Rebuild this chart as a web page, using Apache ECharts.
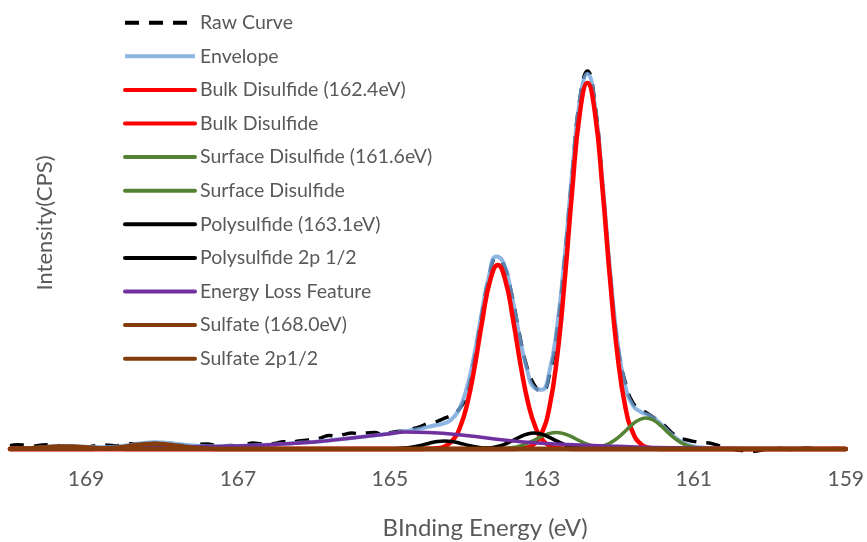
<!DOCTYPE html>
<html>
<head>
<meta charset="utf-8">
<script src="https://cdn.jsdelivr.net/npm/echarts@6/dist/echarts.min.js"></script>
<style>
  html, body { margin: 0; padding: 0; background: #ffffff; }
  #chart { width: 867px; height: 542px; }
</style>
</head>
<body>
<div id="chart"></div>
<script>
// S 2p spectrum: binding energy grid (eV) for the measured and fitted curves
const energy = [
  170, 169.9, 169.8, 169.7, 169.6, 169.5, 169.4, 169.3, 169.2, 169.1,
  169, 168.9, 168.8, 168.7, 168.6, 168.5, 168.4, 168.3, 168.2, 168.1,
  168, 167.9, 167.8, 167.7, 167.6, 167.5, 167.4, 167.3, 167.2, 167.1,
  167, 166.9, 166.8, 166.7, 166.6, 166.5, 166.4, 166.3, 166.2, 166.1,
  166, 165.9, 165.8, 165.7, 165.6, 165.5, 165.4, 165.3, 165.2, 165.1,
  165, 164.9, 164.8, 164.7, 164.6, 164.5, 164.4, 164.3, 164.2, 164.1,
  164, 163.9, 163.8, 163.7, 163.6, 163.5, 163.4, 163.3, 163.2, 163.1,
  163, 162.9, 162.8, 162.7, 162.6, 162.5, 162.4, 162.3, 162.2, 162.1,
  162, 161.9, 161.8, 161.7, 161.6, 161.5, 161.4, 161.3, 161.2, 161.1,
  161, 160.9, 160.8, 160.7, 160.6, 160.5, 160.4, 160.3, 160.2, 160.1,
  160, 159.9, 159.8, 159.7, 159.6, 159.5, 159.4, 159.3, 159.2, 159.1,
  159
];

// Measured intensity (CPS), background subtracted
const rawCounts = [
  34, 42, 36, 27, 38, 43, 36, 28, 20, 14,
  17, 30, 43, 38, 33, 46, 52, 44, 58, 62,
  47, 38, 41, 33, 27, 47, 49, 34, 29, 35,
  31, 45, 60, 52, 47, 57, 72, 66, 80, 88,
  94, 114, 134, 128, 146, 160, 153, 161, 166, 143,
  162, 174, 182, 203, 224, 256, 271, 302, 335, 386,
  520, 850, 1300, 1700, 1905, 1840, 1560, 1170, 830, 640,
  570, 740, 1180, 1900, 2750, 3500, 3780, 3450, 2620, 1750,
  1030, 660, 460, 400, 350, 300, 245, 170, 115, 92,
  76, 65, 60, 40, 15, 2, -12, -18, -22, -10,
  3, 8, 2, -5, 4, 9, 1, -4, 3, 6,
  2
];

// Fit envelope (CPS)
const envelopeCounts = [
  2, 4, 7, 11, 16, 22, 27, 29, 29, 26,
  22, 19, 18, 19, 24, 32, 43, 54, 63, 67,
  65, 59, 51, 42, 36, 31, 28, 28, 29, 29,
  30, 33, 36, 39, 42, 46, 51, 56, 62, 66,
  70, 78, 86, 94, 102, 110, 119, 127, 136, 144,
  154, 166, 179, 189, 203, 221, 237, 254, 289, 380,
  576, 900, 1325, 1715, 1925, 1855, 1550, 1150, 810, 612,
  592, 776, 1216, 1921, 2772, 3487, 3752, 3427, 2658, 1770,
  1054, 624, 434, 372, 340, 293, 225, 152, 91, 49,
  26, 14, 9, 7, 5, 4, 4, 3, 3, 2,
  2, 2, 2, 2, 2, 2, 1, 1, 1, 1,
  0
];

// Fitted components: [binding energy (eV), CPS]
const bulkDisulfide32 = [
  [170, 0], [163.4, 0], [163.3, 3], [163.2, 14], [163.1, 52], [163.0, 161],
  [162.9, 418], [162.8, 913], [162.7, 1676], [162.6, 2587], [162.5, 3356],
  [162.4, 3660], [162.3, 3356], [162.2, 2587], [162.1, 1676], [162.0, 913],
  [161.9, 418], [161.8, 161], [161.7, 52], [161.6, 14], [161.5, 3], [161.4, 0], [159, 0]
];
const bulkDisulfide12 = [
  [170, 0], [164.58, 0], [164.48, 2], [164.38, 7], [164.28, 26], [164.18, 81],
  [164.08, 210], [163.98, 459], [163.88, 842], [163.78, 1300], [163.68, 1687],
  [163.58, 1840], [163.48, 1687], [163.38, 1300], [163.28, 842], [163.18, 459],
  [163.08, 210], [162.98, 81], [162.88, 26], [162.78, 7], [162.68, 2], [162.58, 0], [159, 0]
];
const surfaceDisulfide32 = [
  [170, 0], [162.53, 0], [162.43, 3], [162.33, 8], [162.23, 22], [162.13, 49],
  [162.03, 95], [161.93, 159], [161.83, 231], [161.73, 288], [161.63, 310],
  [161.53, 288], [161.43, 231], [161.33, 159], [161.23, 95], [161.13, 49],
  [161.03, 22], [160.93, 8], [160.83, 3], [160.73, 0], [159, 0]
];
const surfaceDisulfide12 = [
  [170, 0], [163.71, 0], [163.61, 1], [163.51, 4], [163.41, 12], [163.31, 26],
  [163.21, 51], [163.11, 85], [163.01, 123], [162.91, 153], [162.81, 165],
  [162.71, 153], [162.61, 123], [162.51, 85], [162.41, 51], [162.31, 26],
  [162.21, 12], [162.11, 4], [162.01, 1], [161.91, 0], [159, 0]
];
const polysulfide32 = [
  [170, 0], [163.9, 0], [163.8, 3], [163.7, 9], [163.6, 22], [163.5, 44],
  [163.4, 78], [163.3, 116], [163.2, 148], [163.1, 160], [163.0, 148],
  [162.9, 116], [162.8, 78], [162.7, 44], [162.6, 22], [162.5, 9], [162.4, 3],
  [162.3, 0], [159, 0]
];
const polysulfide12 = [
  [170, 0], [165.08, 0], [164.98, 2], [164.88, 4], [164.78, 11], [164.68, 22],
  [164.58, 39], [164.48, 58], [164.38, 74], [164.28, 80], [164.18, 74],
  [164.08, 58], [163.98, 39], [163.88, 22], [163.78, 11], [163.68, 4],
  [163.58, 2], [163.48, 0], [159, 0]
];
const energyLossFeature = [
  [170, 0], [169.5, 2], [169, 5], [168.5, 10], [168, 16], [167.5, 24], [167, 30],
  [166.5, 46], [166, 70], [165.5, 110], [165, 153], [164.8, 170], [164.5, 165],
  [164, 135], [163.5, 90], [163, 58], [162.5, 40], [162, 27], [161.5, 16],
  [161, 9], [160.5, 4], [160, 2], [159.5, 1], [159, 0]
];
const sulfate32 = [
  [170, 0], [169.0, 0], [168.9, 1], [168.8, 3], [168.7, 7], [168.6, 13],
  [168.5, 21], [168.4, 32], [168.3, 42], [168.2, 49], [168.1, 52], [168.0, 49],
  [167.9, 42], [167.8, 32], [167.7, 21], [167.6, 13], [167.5, 7], [167.4, 3],
  [167.3, 1], [167.2, 0], [159, 0]
];
const sulfate12 = [
  [170, 2], [169.88, 4], [169.78, 6], [169.68, 11], [169.58, 16], [169.48, 21],
  [169.38, 25], [169.28, 26], [169.18, 25], [169.08, 21], [168.98, 16],
  [168.88, 11], [168.78, 6], [168.68, 4], [168.58, 2], [168.48, 1], [168.38, 0], [159, 0]
];

const xTickValues = [159, 161, 163, 165, 167, 169];

const seriesNames = [
  'Raw Curve', 'Envelope', 'Bulk Disulfide (162.4eV)', 'Bulk Disulfide',
  'Surface Disulfide (161.6eV)', 'Surface Disulfide', 'Polysulfide (163.1eV)',
  'Polysulfide 2p 1/2', 'Energy Loss Feature', 'Sulfate (168.0eV)', 'Sulfate 2p1/2'
];

const FONT = 'Lato';
const TEXT_GREY = '#595959';

function lineSeries(name, data, color, width, extra) {
  return Object.assign({
    name: name,
    type: 'line',
    data: data,
    smooth: true,
    symbol: 'none',
    showSymbol: false,
    clip: true,
    lineStyle: { color: color, width: width, cap: 'round', join: 'round' },
    itemStyle: { color: color },
    emphasis: { disabled: true }
  }, extra || {});
}

const rawData = energy.map((e, i) => [e, rawCounts[i]]);
const envelopeData = energy.map((e, i) => [e, envelopeCounts[i]]);

const chart = echarts.init(document.getElementById('chart'), null, { renderer: 'canvas' });

chart.setOption({
  animation: false,
  backgroundColor: '#ffffff',
  grid: { left: 10, right: 19, top: 29, bottom: 87, containLabel: false },
  xAxis: {
    type: 'value',
    min: 159,
    max: 170,
    inverse: true,
    axisLine: { show: true, onZero: true, lineStyle: { color: '#d9d9d9', width: 1 } },
    axisTick: { show: false },
    splitLine: { show: false },
    axisLabel: {
      customValues: xTickValues,
      margin: 14,
      fontFamily: FONT,
      fontSize: 21,
      color: TEXT_GREY
    }
  },
  yAxis: {
    type: 'value',
    min: -60,
    max: 4200,
    show: false,
    splitLine: { show: false }
  },
  legend: {
    orient: 'vertical',
    left: 123,
    top: 12.7,
    padding: 0,
    itemWidth: 70,
    itemHeight: 14,
    itemGap: 13.6,
    data: seriesNames,
    itemStyle: { opacity: 0 },
    lineStyle: { width: 4 },
    textStyle: { fontFamily: FONT, fontSize: 19.5, color: TEXT_GREY, lineHeight: 20 },
    selectedMode: false
  },
  graphic: [
    {
      type: 'text',
      x: 485,
      y: 528,
      style: {
        text: 'BInding Energy (eV)',
        fontFamily: FONT,
        fontSize: 24,
        fill: TEXT_GREY,
        align: 'center',
        verticalAlign: 'middle'
      }
    },
    {
      type: 'text',
      x: 45,
      y: 223,
      rotation: Math.PI / 2,
      style: {
        text: 'Intensity(CPS)',
        fontFamily: FONT,
        fontSize: 22,
        fill: TEXT_GREY,
        align: 'center',
        verticalAlign: 'middle'
      }
    }
  ],
  series: [
    lineSeries(seriesNames[0], rawData, '#000000', 3.5, {
      lineStyle: { color: '#000000', width: 3.5, type: [14, 10], cap: 'butt' }
    }),
    lineSeries(seriesNames[1], envelopeData, '#6FA3DA', 4, {
      lineStyle: { color: '#6FA3DA', width: 4, opacity: 0.8 }
    }),
    lineSeries(seriesNames[2], bulkDisulfide32, '#FF0000', 4.5),
    lineSeries(seriesNames[3], bulkDisulfide12, '#FF0000', 4.5),
    lineSeries(seriesNames[4], surfaceDisulfide32, '#548235', 3.5),
    lineSeries(seriesNames[5], surfaceDisulfide12, '#548235', 3.5),
    lineSeries(seriesNames[6], polysulfide32, '#000000', 3.5),
    lineSeries(seriesNames[7], polysulfide12, '#000000', 3.5),
    lineSeries(seriesNames[8], energyLossFeature, '#7030A0', 3.5),
    lineSeries(seriesNames[9], sulfate32, '#843C0C', 4.5),
    lineSeries(seriesNames[10], sulfate12, '#843C0C', 4.5)
  ]
});
</script>
</body>
</html>
